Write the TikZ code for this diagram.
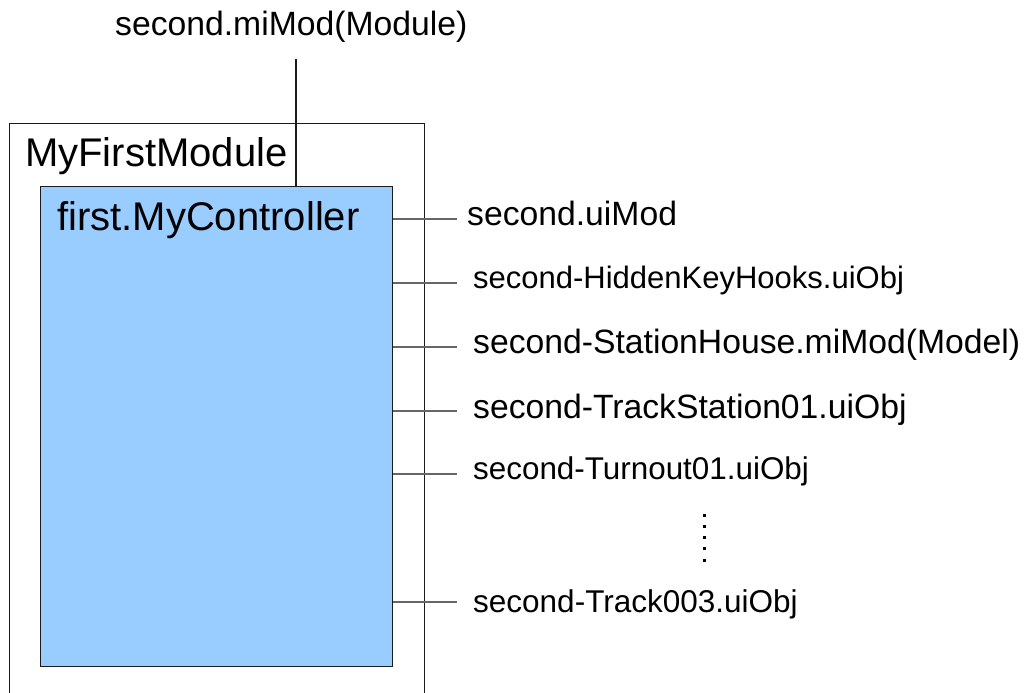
\documentclass[tikz,border=0pt]{standalone}
\usepackage{fontspec}
\setmainfont{Liberation Sans}
\definecolor{ctrlblue}{HTML}{99CCFF}
\definecolor{connline}{HTML}{666666}
\definecolor{boxline}{HTML}{1A1A1A}
\begin{document}
\begin{tikzpicture}[x=1bp,y=-1bp,
  lbl/.style={anchor=base west,inner sep=0pt,font=\fontsize{33.7bp}{40bp}\selectfont},
  smalllbl/.style={anchor=base west,inner sep=0pt,font=\fontsize{#1}{38bp}\selectfont},
  biglbl/.style={anchor=base west,inner sep=0pt,font=\fontsize{40bp}{48bp}\selectfont},
  conn/.style={draw=connline,line width=2bp},
  border/.style={draw=boxline,line width=1.4bp}]
\useasboundingbox (0,0) rectangle (1028,693);
\begin{scope}
\clip (0,0) rectangle (1028,693);
% outer module box (bottom edge lies outside the picture)
\node[border,fill=white,anchor=north west,inner sep=0pt,minimum width=415bp,minimum height=600bp] (module) at (9,123) {};
\end{scope}
% controller box
\node[border,fill=ctrlblue,anchor=north west,inner sep=0pt,minimum width=352bp,minimum height=480bp] (ctrl) at (40,186) {};
% titles
\node[biglbl] (modtitle) at (25,167) {MyFirstModule};
\node[biglbl] (ctrltitle) at (57,230) {first.MyController};
% top label and its connector
\node[lbl] (top) at (115,36) {second.miMod(Module)};
\coordinate (topend) at (296,59);
\draw[border] (topend) -- (ctrl.north -| topend);
% right labels
\node[lbl] (l1) at (467,225) {second.uiMod};
\node[smalllbl=31bp] (l2) at (473,288) {second-HiddenKeyHooks.uiObj};
\node[lbl] (l3) at (473,353) {second-StationHouse.miMod(Model)};
\node[lbl] (l4) at (473,418) {second-TrackStation01.uiObj};
\node[smalllbl=31.4bp] (l5) at (473,479) {second-Turnout01.uiObj};
\node[smalllbl=31.5bp] (l6) at (473,612) {second-Track003.uiObj};
% connector end points
\coordinate (e1) at (457,219);
\coordinate (e2) at (457,283);
\coordinate (e3) at (457,347);
\coordinate (e4) at (457,411);
\coordinate (e5) at (457,474);
\coordinate (e6) at (457,602);
\foreach \e in {e1,e2,e3,e4,e5,e6}{
  \draw[conn] (ctrl.east |- \e) -- (\e);
}
% vertical ellipsis
\foreach \y in {515,526.25,537.5,548.75,560}{
  \fill (702.5,\y-1.5) rectangle ++(3,3);
}
\end{tikzpicture}
\end{document}
